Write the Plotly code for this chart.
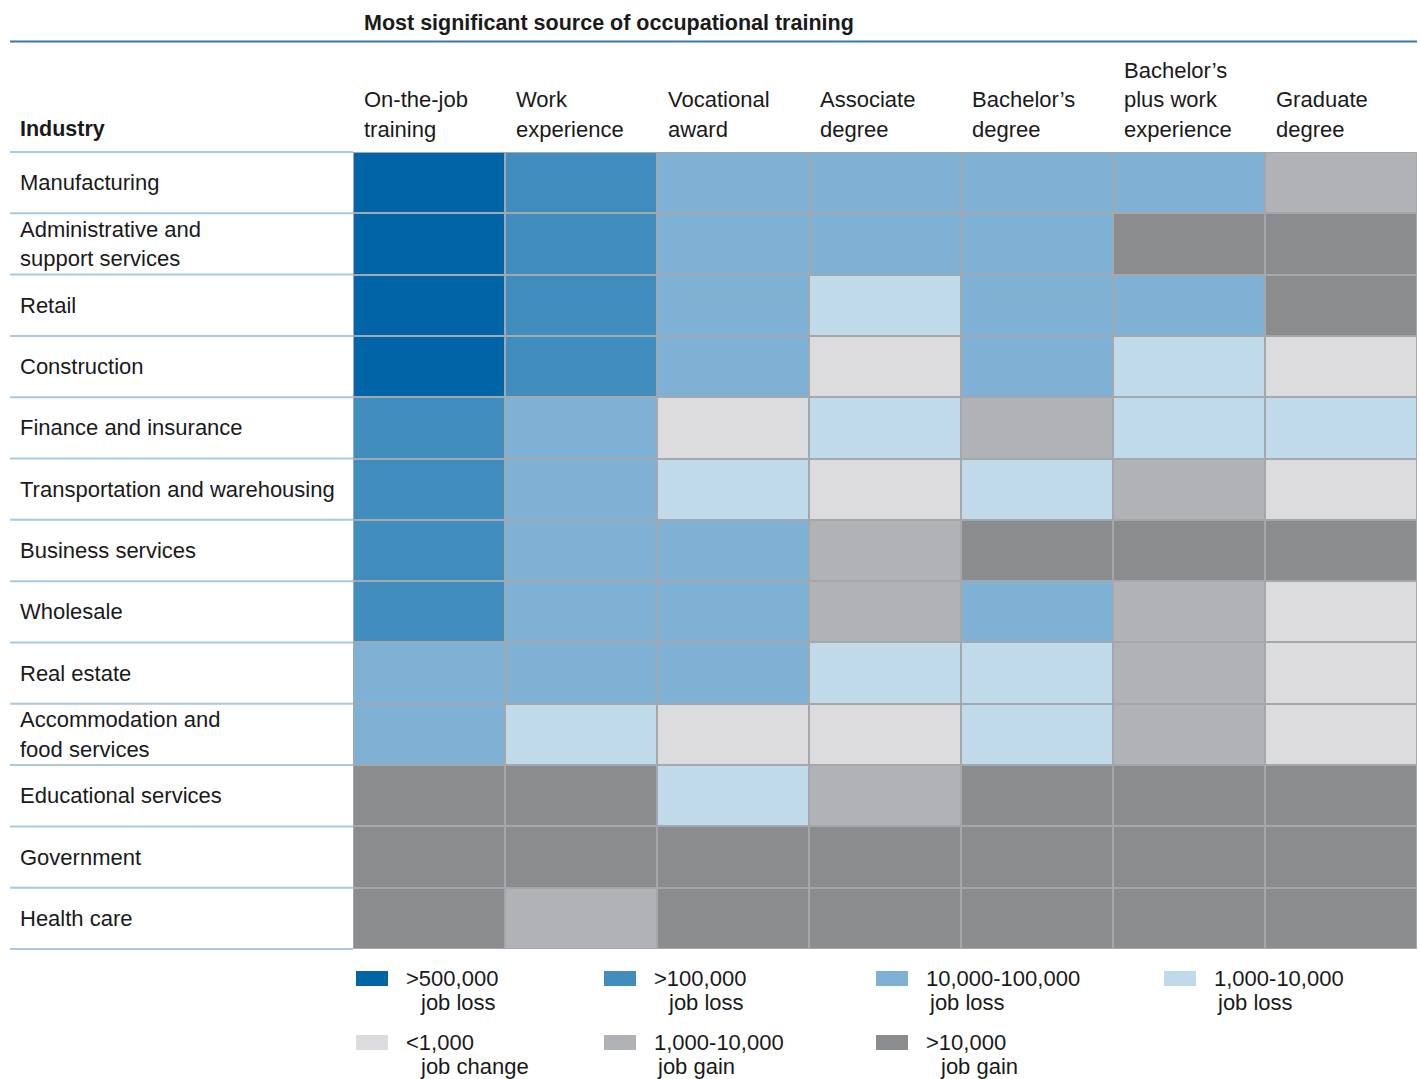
import plotly.graph_objects as go

# ---------------- data ----------------
industries = [
    "Manufacturing",
    "Administrative and<br>support services",
    "Retail",
    "Construction",
    "Finance and insurance",
    "Transportation and warehousing",
    "Business services",
    "Wholesale",
    "Real estate",
    "Accommodation and<br>food services",
    "Educational services",
    "Government",
    "Health care",
]
training_sources = [
    "On-the-job<br>training",
    "Work<br>experience",
    "Vocational<br>award",
    "Associate<br>degree",
    "Bachelor’s<br>degree",
    "Bachelor’s<br>plus work<br>experience",
    "Graduate<br>degree",
]
# category index: 0 >500k loss, 1 >100k loss, 2 10k-100k loss, 3 1k-10k loss,
# 4 <1k change, 5 1k-10k gain, 6 >10k gain
row_manufacturing = [0, 1, 2, 2, 2, 2, 5]
row_admin = [0, 1, 2, 2, 2, 6, 6]
row_retail = [0, 1, 2, 3, 2, 2, 6]
row_construction = [0, 1, 2, 4, 2, 3, 4]
row_finance = [1, 2, 4, 3, 5, 3, 3]
row_transport = [1, 2, 3, 4, 3, 5, 4]
row_business = [1, 2, 2, 5, 6, 6, 6]
row_wholesale = [1, 2, 2, 5, 2, 5, 4]
row_realestate = [2, 2, 2, 3, 3, 5, 4]
row_accommodation = [2, 3, 4, 4, 3, 5, 4]
row_education = [6, 6, 3, 5, 6, 6, 6]
row_government = [6, 6, 6, 6, 6, 6, 6]
row_health = [6, 5, 6, 6, 6, 6, 6]

category_labels = [
    ">500,000<br>job loss",
    ">100,000<br>job loss",
    "10,000-100,000<br>job loss",
    "1,000-10,000<br>job loss",
    "<1,000<br>job change",
    "1,000-10,000<br>job gain",
    ">10,000<br>job gain",
]
category_colors = ["#0064a6", "#418dbd", "#7fb1d4", "#c1dae9",
                   "#dcdcde", "#b1b2b5", "#8b8c8e"]

title_text = "Most significant source of occupational training"
industry_header = "Industry"

z = [row_manufacturing, row_admin, row_retail, row_construction, row_finance,
     row_transport, row_business, row_wholesale, row_realestate,
     row_accommodation, row_education, row_government, row_health]

# ---------------- layout helpers ----------------
W, H = 1420, 1079
FONT = "Liberation Sans"
FS = 22
TXT = "#1a1a1a"


def px(x):
    return x / W


def py(y):
    return 1 - y / H


grid_left, grid_right = 353, 1417
grid_top, grid_bottom = 152, 949
n_rows = len(industries)
n_cols = len(training_sources)
row_h = (grid_bottom - grid_top) / n_rows
col_w = (grid_right - grid_left) / n_cols
line_h = 29.3

n_cat = len(category_colors)
colorscale = []
for i, c in enumerate(category_colors):
    colorscale.append([i / n_cat, c])
    colorscale.append([(i + 1) / n_cat, c])

fig = go.Figure(go.Heatmap(
    z=z,
    x=list(range(n_cols)),
    y=list(range(n_rows)),
    colorscale=colorscale,
    zmin=-0.5, zmax=n_cat - 0.5,
    showscale=False,
    xgap=2, ygap=2,
    hoverinfo="skip",
))

annotations = []
shapes = []


def label(x, y, text, size=FS):
    annotations.append(dict(x=px(x - 2), y=py(y), xref="paper", yref="paper",
                            text=text, showarrow=False,
                            xanchor="left", yanchor="middle",
                            font=dict(family=FONT, size=size, color=TXT)))


# title
label(364, 23, "<b>" + title_text + "</b>", size=21.5)
shapes.append(dict(type="line", xref="paper", yref="paper",
                   x0=px(10), x1=px(1417), y0=py(41.5), y1=py(41.5),
                   line=dict(color="#3a78a8", width=2)))

# Industry header
label(20, 129, "<b>" + industry_header + "</b>", size=21.5)

# column headers (bottom aligned, one annotation per line)
for j, lab in enumerate(training_sources):
    lines = lab.split("<br>")
    for k, ln in enumerate(reversed(lines)):
        label(grid_left + j * col_w + 11, 129 - k * line_h, ln)

# row labels and separator lines
for i, lab in enumerate(industries):
    lines = lab.split("<br>")
    cy = grid_top + (i + 0.5) * row_h
    n = len(lines)
    for k, ln in enumerate(lines):
        label(20, cy + (k - (n - 1) / 2) * line_h, ln)
for i in range(n_rows + 1):
    yb = grid_top + i * row_h
    shapes.append(dict(type="line", xref="paper", yref="paper",
                       x0=px(10), x1=px(grid_left), y0=py(yb), y1=py(yb),
                       line=dict(color="#a9c9e1", width=2)))

# legend
leg_cols_x = [356, 604, 876, 1164]
leg_rows_y = [971, 1035]
for idx, (lab, col) in enumerate(zip(category_labels, category_colors)):
    r, c = divmod(idx, 4)
    sx, sy = leg_cols_x[c], leg_rows_y[r]
    shapes.append(dict(type="rect", xref="paper", yref="paper",
                       x0=px(sx), x1=px(sx + 32), y0=py(sy), y1=py(sy + 15),
                       fillcolor=col, line=dict(width=0)))
    l1, l2 = lab.split("<br>")
    indent = 14 if l1[0] in "<>" else 3
    label(sx + 50, sy + 7, l1)
    label(sx + 50 + indent, sy + 31, l2)

fig.update_layout(
    width=W, height=H,
    margin=dict(l=0, r=0, t=0, b=0),
    paper_bgcolor="white",
    plot_bgcolor="#a2a8ae",
    xaxis=dict(domain=[px(grid_left), px(grid_right)], range=[-0.5, n_cols - 0.5],
               showticklabels=False, showgrid=False, zeroline=False, ticks=""),
    yaxis=dict(domain=[py(grid_bottom), py(grid_top)], range=[n_rows - 0.5, -0.5],
               showticklabels=False, showgrid=False, zeroline=False, ticks=""),
    annotations=annotations,
    shapes=shapes,
    showlegend=False,
    hovermode=False,
)

# remove the default page margin so the figure fills the window exactly
fig.write_html(
    "out.html",
    config={"displayModeBar": False, "staticPlot": True},
    post_script="document.body.style.margin='0';document.body.style.overflow='hidden';",
)
